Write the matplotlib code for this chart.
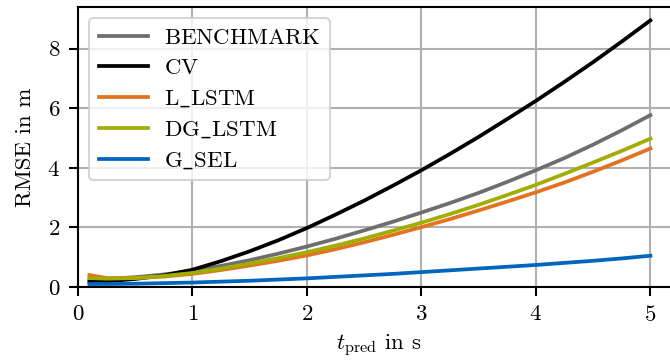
import matplotlib
matplotlib.use("Agg")
import matplotlib.pyplot as plt

plt.rcParams["font.family"] = "serif"
plt.rcParams["font.serif"] = ["cmr10"]
plt.rcParams["mathtext.fontset"] = "cm"
plt.rcParams["axes.formatter.use_mathtext"] = True
plt.rcParams["font.size"] = 16.5

# prediction horizon in s
t_pred = [0.1, 0.25, 0.5, 0.75, 1.0, 1.25, 1.5, 1.75, 2.0, 2.25, 2.5,
          2.75, 3.0, 3.25, 3.5, 3.75, 4.0, 4.25, 4.5, 4.75, 5.0]

# RMSE in m
benchmark = [0.25, 0.27, 0.33, 0.42, 0.55, 0.71, 0.9, 1.12, 1.36, 1.62, 1.9,
             2.19, 2.5, 2.82, 3.16, 3.53, 3.92, 4.33, 4.78, 5.26, 5.77]
cv = [0.17, 0.19, 0.27, 0.39, 0.58, 0.87, 1.2, 1.57, 1.98, 2.43, 2.9,
      3.4, 3.92, 4.47, 5.04, 5.64, 6.25, 6.89, 7.55, 8.24, 8.95]
l_lstm = [0.4, 0.3, 0.3, 0.35, 0.44, 0.57, 0.72, 0.88, 1.06, 1.27, 1.5,
          1.75, 2.01, 2.28, 2.57, 2.87, 3.18, 3.51, 3.87, 4.25, 4.65]
dg_lstm = [0.3, 0.28, 0.3, 0.37, 0.47, 0.62, 0.79, 0.97, 1.17, 1.39, 1.63,
           1.89, 2.16, 2.45, 2.76, 3.09, 3.43, 3.8, 4.18, 4.57, 4.98]
g_sel = [0.1, 0.1, 0.11, 0.13, 0.15, 0.18, 0.21, 0.25, 0.29, 0.34, 0.39,
         0.44, 0.5, 0.56, 0.62, 0.68, 0.74, 0.81, 0.88, 0.96, 1.05]

labels = [r"$\mathrm{BENCHMARK}$", r"$\mathrm{CV}$", r"$\mathrm{L\_LSTM}$",
          r"$\mathrm{DG\_LSTM}$", r"$\mathrm{G\_SEL}$"]
colors = ["#6e6e6e", "#000000", "#e37222", "#a2ad00", "#0065bd"]
series = [benchmark, cv, l_lstm, dg_lstm, g_sel]

fig = plt.figure(figsize=(6.7, 3.61), dpi=100)
ax = fig.add_axes([78 / 670, 74 / 361, 601 / 670, 280 / 361])

for vals, lab, col in zip(series, labels, colors):
    ax.plot(t_pred, vals, color=col, lw=2.7, label=lab)

ax.set_xlim(0, 5.25)
ax.set_ylim(0, 9.4)
ax.set_xticks([0, 1, 2, 3, 4, 5])
ax.set_yticks([0, 2, 4, 6, 8])
ax.grid(True, color="#b0b0b0", lw=1.5)
ax.set_axisbelow(True)
for s in ax.spines.values():
    s.set_linewidth(1.5)
ax.tick_params(width=1.5, length=6.8, pad=6)

ax.set_xlabel(r"$t_\mathrm{pred}$ in s", labelpad=6)
ax.set_ylabel("RMSE in m", labelpad=9)

leg = ax.legend(loc="upper left", fancybox=True, framealpha=0.8,
                edgecolor="#cccccc", handlelength=2.15, handletextpad=0.7,
                labelspacing=0.45, borderaxespad=0.5)
leg.get_frame().set_linewidth(1.5)

fig.savefig("out.png", dpi=100)
